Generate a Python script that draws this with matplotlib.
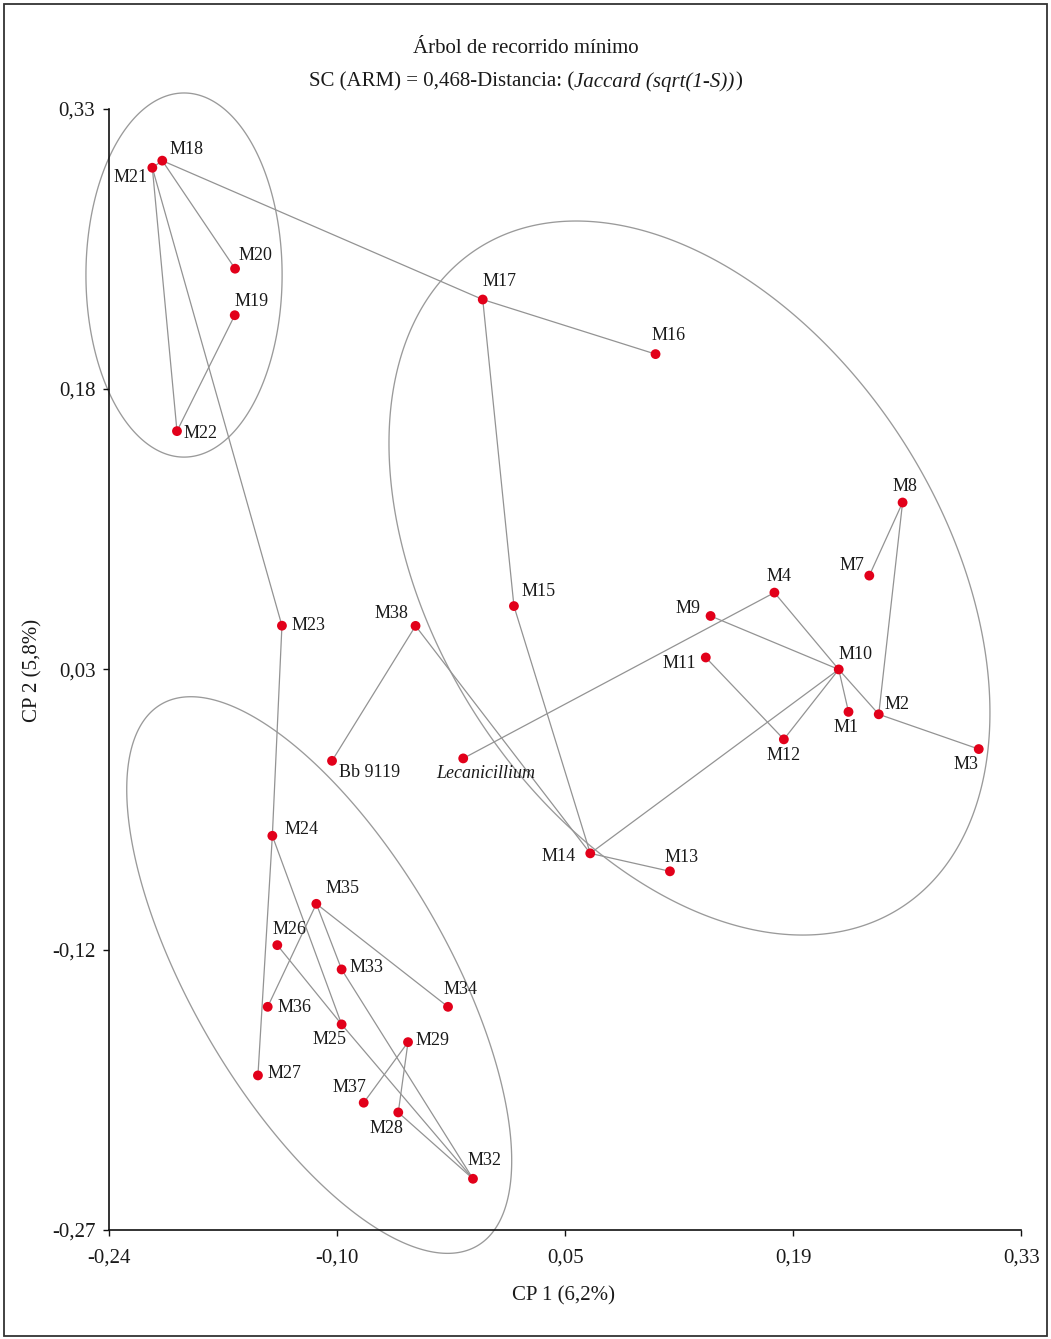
import numpy as np
import matplotlib
matplotlib.use("Agg")
import matplotlib.pyplot as plt
from matplotlib.patches import Rectangle, Polygon

plt.rcParams['font.family'] = ['Liberation Serif', 'DejaVu Serif']

# Sample names and their scores on the first two principal coordinates
names = ["M1", "M2", "M3", "M4", "M7", "M8", "M9", "M10", "M11", "M12",
         "M13", "M14", "M15", "M16", "M17", "M18", "M19", "M20", "M21", "M22",
         "M23", "M24", "M25", "M26", "M27", "M28", "M29", "M32", "M33", "M34",
         "M35", "M36", "M37", "M38", "Bb 9119", "Lecanicillium"]
cp1 = [0.2220, 0.2409, 0.3034, 0.1757, 0.2350, 0.2558, 0.1358, 0.2159, 0.1328, 0.1816,
       0.1104, 0.0606, 0.0129, 0.1014, -0.0066, -0.2069, -0.1616, -0.1614, -0.2131, -0.1977,
       -0.1321, -0.1381, -0.0948, -0.1350, -0.1471, -0.0594, -0.0533, -0.0127, -0.0948, -0.0283,
       -0.1106, -0.1410, -0.0810, -0.0486, -0.1008, -0.0188]
cp2 = [0.0072, 0.0059, -0.0127, 0.0710, 0.0801, 0.1192, 0.0585, 0.0299, 0.0363, -0.0075,
       -0.0781, -0.0685, 0.0638, 0.1986, 0.2278, 0.3021, 0.2194, 0.2443, 0.2983, 0.1574,
       0.0533, -0.0591, -0.1600, -0.1176, -0.1873, -0.2071, -0.1695, -0.2426, -0.1306, -0.1506,
       -0.0955, -0.1506, -0.2019, 0.0532, -0.0190, -0.0177]

# Minimum spanning tree edges
edges = [("M18", "M21"), ("M18", "M20"), ("M18", "M17"), ("M21", "M22"), ("M22", "M19"),
         ("M21", "M23"), ("M17", "M16"), ("M17", "M15"), ("M15", "M14"), ("M14", "M13"),
         ("M14", "M38"), ("M38", "Bb 9119"), ("M14", "M10"), ("Lecanicillium", "M4"),
         ("M4", "M10"), ("M10", "M2"), ("M9", "M10"), ("M10", "M1"), ("M10", "M12"),
         ("M11", "M12"), ("M2", "M8"), ("M8", "M7"), ("M2", "M3"),
         ("M23", "M24"), ("M24", "M27"), ("M24", "M25"), ("M25", "M26"), ("M25", "M32"),
         ("M32", "M33"), ("M33", "M35"), ("M35", "M34"), ("M35", "M36"), ("M32", "M28"),
         ("M28", "M29"), ("M29", "M37")]

# Group ellipses: centre, half-extent along each axis, and correlation term
ell_cx = [-0.1933, 0.1226, -0.1088]
ell_cy = [0.2409, 0.0788, -0.1336]
ell_rx = [0.0613, 0.1878, 0.1203]
ell_ry = [0.0974, 0.1910, 0.1489]
ell_rho = [0.0, -0.377, -0.667]

x_ticks = [-0.24, -0.0975, 0.045, 0.1875, 0.33]
x_ticklabels = ["-0,24", "-0,10", "0,05", "0,19", "0,33"]
y_ticks = [0.33, 0.18, 0.03, -0.12, -0.27]
y_ticklabels = ["0,33", "0,18", "0,03", "-0,12", "-0,27"]

# Label placement (alignment, dx, dy in pixels, dy measured downward)
label_pos = {
    "M18": ("left", 7, -11), "M21": ("right", -5, 10), "M20": ("left", 3, -13),
    "M19": ("left", 0, -14), "M22": ("left", 7, 2), "M17": ("left", 0, -18),
    "M16": ("left", -4, -19), "M8": ("left", -10, -16), "M7": ("right", -5, -10),
    "M4": ("left", -8, -16), "M9": ("right", -10, -7), "M15": ("left", 8, -15),
    "M38": ("right", -7, -12), "M23": ("left", 10, 0), "Bb 9119": ("left", 7, 12),
    "Lecanicillium": ("left", -27, 15), "M11": ("right", -10, 6), "M10": ("left", 0, -15),
    "M2": ("left", 6, -10), "M1": ("center", -2, 16), "M12": ("center", 0, 16),
    "M3": ("center", -13, 15), "M14": ("right", -15, 3), "M13": ("left", -5, -14),
    "M24": ("left", 12, -6), "M35": ("left", 9, -15), "M26": ("left", -5, -16),
    "M33": ("left", 8, -2), "M36": ("left", 10, 1), "M34": ("left", -5, -17),
    "M25": ("right", 5, 15), "M29": ("left", 7, -2), "M27": ("left", 10, -2),
    "M37": ("right", 3, -15), "M28": ("right", 5, 16), "M32": ("left", -5, -18),
}

W, H, DPI = 1051, 1339, 100
PX = 72.0 / DPI
TXT = "#1a1a1a"
fig = plt.figure(figsize=(W / DPI, H / DPI), dpi=DPI)
ax = fig.add_axes([109.3 / W, 1 - 1230 / H, (1021.3 - 109.3) / W, (1230 - 108.5) / H])
ax.set_xlim(-0.24, 0.33)
ax.set_ylim(-0.27, 0.33)

pos = {n: (x, y) for n, x, y in zip(names, cp1, cp2)}

# Ellipses drawn as closed outlines
t = np.linspace(0, 2 * np.pi, 600, endpoint=False)
for cx, cy, rx, ry, rho in zip(ell_cx, ell_cy, ell_rx, ell_ry, ell_rho):
    ex = cx + rx * np.cos(t)
    ey = cy + ry * (rho * np.cos(t) + np.sqrt(1 - rho ** 2) * np.sin(t))
    ax.add_patch(Polygon(np.column_stack([ex, ey]), closed=True, fill=False,
                         edgecolor="#9a9a9a", lw=0.95, clip_on=False, zorder=1,
                         joinstyle="round"))

# Tree edges
for a, b in edges:
    ax.plot([pos[a][0], pos[b][0]], [pos[a][1], pos[b][1]],
            color="#939393", lw=0.9, zorder=2, clip_on=False)

ax.scatter(cp1, cp2, s=50, color="#e2001a", edgecolors="none", zorder=3, clip_on=False)

for n in names:
    ha, dx, dy = label_pos[n]
    style = "italic" if n == "Lecanicillium" else "normal"
    ax.annotate(n, pos[n], xytext=(dx * PX, -dy * PX), textcoords="offset points",
                ha=ha, va="center", fontsize=13, color=TXT, fontstyle=style, zorder=4)

for s in ["top", "right"]:
    ax.spines[s].set_visible(False)
for s in ["left", "bottom"]:
    ax.spines[s].set_linewidth(1.2)
    ax.spines[s].set_color("#111111")
ax.set_xticks(x_ticks)
ax.set_xticklabels(x_ticklabels)
ax.set_yticks(y_ticks)
ax.set_yticklabels(y_ticklabels)
ax.tick_params(direction="out", length=4, width=1, labelsize=15, colors="#111111",
               labelcolor=TXT)
ax.tick_params(axis="x", pad=9)
ax.tick_params(axis="y", pad=6)

fig.text(563 / W, 1 - 1296 / H, "CP 1 (6,2%)", ha="center", va="center", fontsize=15, color=TXT)
fig.text(33 / W, 1 - 670 / H, "CP 2 (5,8%)", ha="center", va="center", rotation=90,
         fontsize=15, color=TXT)

# Title lines
fig.text(0.5, 1 - 53 / H, "Árbol de recorrido mínimo", ha="center", va="baseline",
         fontsize=15, color=TXT)
pieces = [("SC (ARM) = 0,468-Distancia: (", "normal"), ("Jaccard (sqrt(1-S))", "italic"),
          (")", "normal")]
fig.canvas.draw()
renderer = fig.canvas.get_renderer()
objs = []
for txt, st in pieces:
    o = fig.text(0, 1 - 86.5 / H, txt, ha="left", va="baseline", fontsize=15,
                 color=TXT, fontstyle=st)
    objs.append(o)
widths = [o.get_window_extent(renderer).width for o in objs]
x0 = (W - sum(widths)) / 2
for o, w in zip(objs, widths):
    o.set_x(x0 / W)
    x0 += w

# Outer frame
fig.patches.append(Rectangle((4 / W, 3 / H), (W - 8) / W, (H - 7) / H,
                             transform=fig.transFigure, fill=False,
                             edgecolor="#333333", lw=1.3))

fig.savefig("out.png", dpi=DPI)
